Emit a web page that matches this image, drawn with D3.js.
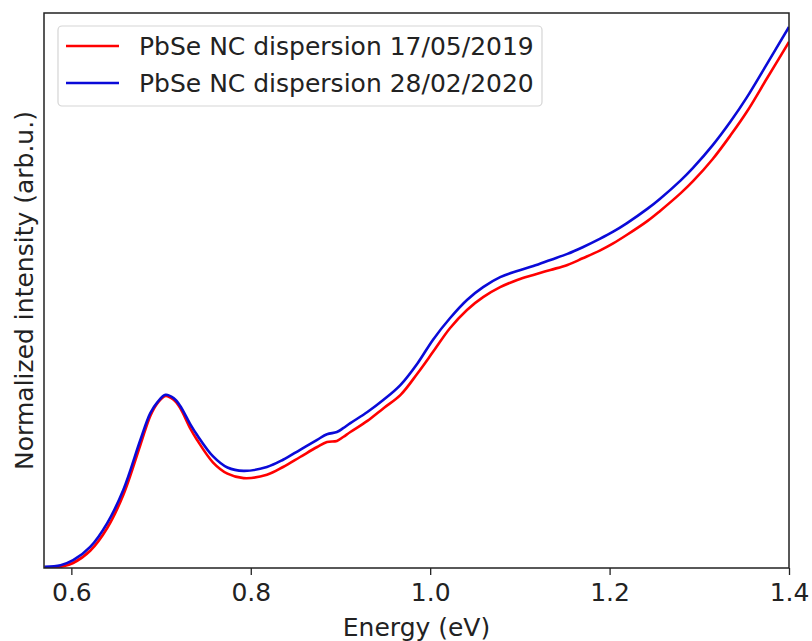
<!DOCTYPE html>
<html>
<head>
<meta charset="utf-8">
<script src="https://cdn.jsdelivr.net/npm/d3@7"></script>
<style>
  body { margin: 0; background: #fff; }
  text { font-family: "DejaVu Sans", sans-serif; fill: #222; }
</style>
</head>
<body>
<div id="chart"></div>
<script>
// energies (eV) sampled along the curves
const energy = [0.570, 0.588, 0.602, 0.621, 0.640, 0.658, 0.677, 0.688, 0.696, 0.705, 0.714, 0.721, 0.733, 0.740,
  0.758, 0.774, 0.792, 0.818, 0.836, 0.855, 0.874, 0.885, 0.896, 0.903, 0.911, 0.930, 0.948, 0.967, 0.986,
  1.003, 1.022, 1.041, 1.059, 1.078, 1.097, 1.115, 1.134, 1.153, 1.170, 1.189, 1.204, 1.219, 1.242, 1.256,
  1.279, 1.293, 1.315, 1.335, 1.353, 1.375, 1.400];

const intensity2019 = [0.000, 0.002, 0.009, 0.031, 0.072, 0.132, 0.222, 0.274, 0.297, 0.310, 0.303, 0.289, 0.250, 0.231,
  0.190, 0.170, 0.162, 0.168, 0.182, 0.200, 0.218, 0.227, 0.229, 0.236, 0.245, 0.265, 0.288, 0.312, 0.351,
  0.389, 0.432, 0.465, 0.488, 0.506, 0.519, 0.528, 0.537, 0.546, 0.558, 0.572, 0.585, 0.600, 0.625, 0.643,
  0.675, 0.697, 0.737, 0.780, 0.822, 0.881, 0.948];

const intensity2020 = [0.002, 0.005, 0.014, 0.038, 0.081, 0.141, 0.231, 0.279, 0.299, 0.312, 0.306, 0.293, 0.258, 0.240,
  0.201, 0.181, 0.175, 0.182, 0.195, 0.213, 0.231, 0.241, 0.245, 0.252, 0.261, 0.281, 0.303, 0.330, 0.369,
  0.411, 0.450, 0.483, 0.506, 0.524, 0.535, 0.544, 0.555, 0.566, 0.578, 0.593, 0.606, 0.621, 0.647, 0.665,
  0.698, 0.721, 0.762, 0.805, 0.848, 0.907, 0.975];

const seriesNames = ["PbSe NC dispersion 17/05/2019", "PbSe NC dispersion 28/02/2020"];
const seriesColors = ["#ff0000", "#0a0ad8"];
const xTicks = [0.6, 0.8, 1.0, 1.2, 1.4];

let margin = { top: 13, left: 44, right: 23, bottom: 73 },
    W = 812, H = 641,
    width = W - margin.left - margin.right,
    height = H - margin.top - margin.bottom;

let svg = d3.select("#chart").append("svg")
  .attr("width", W)
  .attr("height", H);

let x = d3.scaleLinear().domain([0.5695, 1.4]).range([0, width]);
let y = d3.scaleLinear().domain([0, 1]).range([height, 0]);

let g = svg.append("g").attr("transform", `translate(${margin.left},${margin.top})`);

g.append("defs").append("clipPath").attr("id", "clip")
  .append("rect").attr("width", width).attr("height", height);

let series = [intensity2019, intensity2020].map((vals, i) => ({
  name: seriesNames[i],
  color: seriesColors[i],
  values: energy.map((e, j) => ({ e: e, v: vals[j] }))
}));

let line = d3.line()
  .x(d => x(d.e))
  .y(d => y(d.v))
  .curve(d3.curveCatmullRom.alpha(0.5));

g.append("g").attr("clip-path", "url(#clip)")
  .selectAll("path")
  .data(series)
  .join("path")
    .attr("fill", "none")
    .attr("stroke", d => d.color)
    .attr("stroke-width", 2.6)
    .attr("d", d => line(d.values));

// x axis
let xAxis = g.append("g")
  .attr("transform", `translate(0,${height})`)
  .call(d3.axisBottom(x).tickValues(xTicks).tickFormat(d3.format(".1f")).tickSizeOuter(0).tickSize(7).tickPadding(8));
xAxis.select(".domain").remove();
xAxis.selectAll("line").attr("stroke", "#222").attr("stroke-width", 1.3);
xAxis.selectAll("text").attr("font-size", 25).attr("fill", "#222")
  .attr("font-family", "DejaVu Sans, sans-serif");

// frame
g.append("rect")
  .attr("width", width).attr("height", height)
  .attr("fill", "none").attr("stroke", "#222").attr("stroke-width", 1.5);

// axis labels
svg.append("text")
  .attr("x", margin.left + width / 2)
  .attr("y", 636)
  .attr("text-anchor", "middle")
  .attr("font-size", 25)
  .text("Energy (eV)");

svg.append("text")
  .attr("transform", `translate(33,${margin.top + height / 2}) rotate(-90)`)
  .attr("text-anchor", "middle")
  .attr("font-size", 25)
  .text("Normalized intensity (arb.u.)");

// legend
let legend = svg.append("g");
legend.append("rect")
  .attr("x", 58).attr("y", 26).attr("width", 484).attr("height", 80)
  .attr("rx", 4)
  .attr("fill", "#fff").attr("fill-opacity", 0.8)
  .attr("stroke", "#d5d5d5").attr("stroke-width", 1.2);

let items = legend.selectAll("g.item")
  .data(series)
  .join("g")
    .attr("class", "item")
    .attr("transform", (d, i) => `translate(0,${46 + i * 37})`);

items.append("line")
  .attr("x1", 66).attr("x2", 119)
  .attr("stroke", d => d.color)
  .attr("stroke-width", 2.6);

items.append("text")
  .attr("x", 139)
  .attr("dy", "0.36em")
  .attr("font-size", 25)
  .text(d => d.name);
</script>
</body>
</html>
